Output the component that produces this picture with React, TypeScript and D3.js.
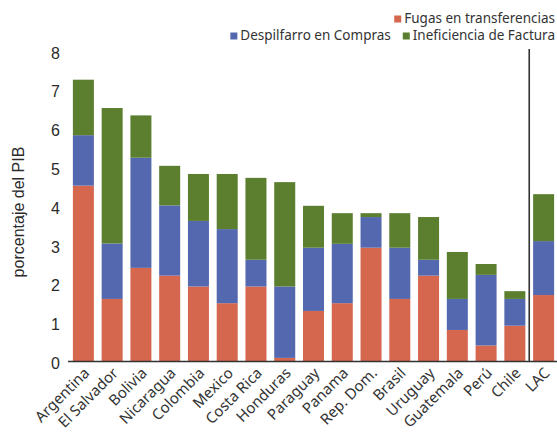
import { useEffect, useRef } from "react"
import * as d3 from "d3"

const countries = [
  "Argentina", "El Salvador", "Bolivia", "Nicaragua", "Colombia", "Mexico",
  "Costa Rica", "Honduras", "Paraguay", "Panama", "Rep. Dom.", "Brasil",
  "Uruguay", "Guatemala", "Perú", "Chile", "LAC",
]
const fugas = [4.52, 1.6, 2.4, 2.2, 1.92, 1.49, 1.92, 0.08, 1.29, 1.49, 2.92, 1.6, 2.2, 0.8, 0.4, 0.91, 1.7]
const despilfarro = [1.3, 1.43, 2.84, 1.81, 1.69, 1.91, 0.69, 1.84, 1.63, 1.53, 0.79, 1.32, 0.41, 0.8, 1.82, 0.69, 1.39]
const ineficiencia = [1.43, 3.49, 1.09, 1.02, 1.21, 1.42, 2.11, 2.69, 1.08, 0.79, 0.1, 0.89, 1.1, 1.21, 0.28, 0.2, 1.21]
const yTicks = [0, 1, 2, 3, 4, 5, 6, 7, 8]

const seriesNames = ["Fugas en transferencias", "Despilfarro en Compras", "Ineficiencia de Factura"]
const seriesKeys = ["fugas", "despilfarro", "ineficiencia"]
const colors = ["#D6674F", "#5468AF", "#5B7F2F"]

export default function App() {
  const svgRef = useRef<SVGSVGElement>(null)

  useEffect(() => {
    document.body.style.margin = "0"
    if (!svgRef.current) return
    const svg = d3.select(svgRef.current)
    svg.selectAll("*").remove()

    const W = 557
    const plot = { left: 69, right: 558, top: 50.6, bottom: 361 }

    const rows = countries.map((c, i) => ({
      country: c,
      fugas: fugas[i],
      despilfarro: despilfarro[i],
      ineficiencia: ineficiencia[i],
    }))

    const x = d3.scaleBand<string>()
      .domain(countries)
      .range([plot.left, plot.right])
      .paddingInner(0.27)
      .paddingOuter(0.135)

    const y = d3.scaleLinear().domain([0, 8]).range([plot.bottom, plot.top])

    const stack = d3.stack<any>().keys(seriesKeys)
    const layers = stack(rows)

    const g = svg.append("g")

    g.selectAll("g.layer")
      .data(layers)
      .join("g")
      .attr("class", "layer")
      .attr("fill", (_d, i) => colors[i])
      .selectAll("rect")
      .data(d => d)
      .join("rect")
      .attr("x", d => x(d.data.country) as number)
      .attr("width", x.bandwidth())
      .attr("y", d => y(d[1]))
      .attr("height", d => y(d[0]) - y(d[1]))

    // y tick labels
    g.selectAll("text.ytick")
      .data(yTicks)
      .join("text")
      .attr("class", "ytick")
      .attr("x", 60)
      .attr("y", d => y(d) + 8)
      .attr("text-anchor", "end")
      .attr("font-family", "'Liberation Sans', Arial, sans-serif")
      .attr("font-size", 16)
      .attr("fill", "#2b2b2b")
      .text(d => d)

    // baseline
    g.append("line")
      .attr("x1", plot.left - 1)
      .attr("x2", W)
      .attr("y1", plot.bottom + 0.5)
      .attr("y2", plot.bottom + 0.5)
      .attr("stroke", "#333")
      .attr("stroke-width", 1.5)

    // separator before LAC
    const sepX = (x("Chile") as number) + x.bandwidth() + x.step() * x.paddingInner() / 2
    g.append("line")
      .attr("x1", sepX)
      .attr("x2", sepX)
      .attr("y1", 49)
      .attr("y2", plot.bottom)
      .attr("stroke", "#333")
      .attr("stroke-width", 1.6)

    // category labels
    g.selectAll("text.xlab")
      .data(countries)
      .join("text")
      .attr("class", "xlab")
      .attr("transform", d => `translate(${(x(d) as number) + x.bandwidth() / 2 + 7},${plot.bottom + 13}) rotate(-45)`)
      .attr("text-anchor", "end")
      .attr("font-family", "'Noto Sans', sans-serif")
      .attr("font-size", 15)
      .attr("fill", "#333")
      .text(d => d)

    // y axis title
    g.append("text")
      .attr("transform", `translate(24,212) rotate(-90)`)
      .attr("text-anchor", "middle")
      .attr("font-family", "'Liberation Sans', Arial, sans-serif")
      .attr("font-size", 16)
      .attr("fill", "#2b2b2b")
      .text("porcentaje del PIB")

    // legend
    const legend = g.append("g").attr("font-family", "'Noto Sans', sans-serif").attr("font-size", 13.5).attr("fill", "#333")
    const legendItem = (name: string, color: string, right: number, baseline: number) => {
      const t = legend.append("text")
        .attr("x", right)
        .attr("y", baseline)
        .attr("text-anchor", "end")
        .text(name)
      const w = (t.node() as SVGTextElement).getComputedTextLength()
      legend.append("rect")
        .attr("x", right - w - 10)
        .attr("y", baseline - 7.5)
        .attr("width", 7)
        .attr("height", 7)
        .attr("fill", color)
      return right - w - 10
    }
    legendItem(seriesNames[0], colors[0], 555, 23)
    const left2 = legendItem(seriesNames[2], colors[2], 555, 40)
    legendItem(seriesNames[1], colors[1], left2 - 12, 40)
  }, [])

  return <svg ref={svgRef} width={557} height={434} style={{ display: "block", background: "#fff" }} />
}
